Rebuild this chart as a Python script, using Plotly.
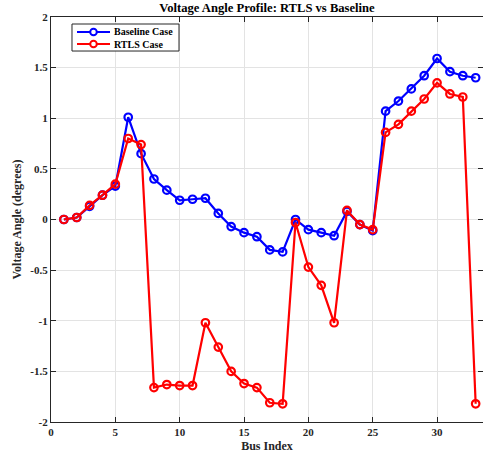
import plotly.graph_objects as go

bus = list(range(1, 34))
baseline = [0.00, 0.02, 0.13, 0.24, 0.33, 1.01, 0.65, 0.40, 0.29, 0.19, 0.20, 0.21,
            0.06, -0.07, -0.13, -0.17, -0.30, -0.32, 0.00, -0.10, -0.13, -0.16,
            0.08, -0.05, -0.11, 1.07, 1.17, 1.29, 1.42, 1.59, 1.46, 1.42, 1.40]
rtls = [0.00, 0.02, 0.14, 0.24, 0.35, 0.80, 0.74, -1.66, -1.63, -1.64, -1.64, -1.02,
        -1.26, -1.50, -1.62, -1.66, -1.81, -1.82, -0.03, -0.47, -0.65, -1.02,
        0.09, -0.05, -0.10, 0.86, 0.94, 1.07, 1.19, 1.35, 1.24, 1.21, -1.82]

series_names = ["Baseline Case", "RTLS Case"]
series_colors = ["#0000ff", "#ff0000"]

x_ticks = [0, 5, 10, 15, 20, 25, 30]
y_ticks = [-2, -1.5, -1, -0.5, 0, 0.5, 1, 1.5, 2]
y_labels = ["-2", "-1.5", "-1", "-0.5", "0", "0.5", "1", "1.5", "2"]

font_family = "Liberation Serif"

fig = go.Figure()
for name, vals, color in zip(series_names, [baseline, rtls], series_colors):
    fig.add_trace(go.Scatter(
        x=bus, y=vals, name=name, mode="lines+markers",
        line=dict(color=color, width=2.2),
        marker=dict(symbol="circle-open", size=7.5, color=color,
                    line=dict(color=color, width=2.2)),
        showlegend=False,
    ))

# compact boxed legend in the upper-left corner of the axes
shapes = [dict(type="rect", xref="paper", yref="paper",
               x0=0.0486, x1=0.2963, y0=0.916, y1=0.9827,
               line=dict(color="#262626", width=1), fillcolor="white", layer="above")]
annotations = []
for row_y, name, color in zip([0.963, 0.9333], series_names, series_colors):
    shapes.append(dict(type="line", xref="paper", yref="paper",
                       x0=0.0602, x1=0.1366, y0=row_y, y1=row_y,
                       line=dict(color=color, width=2.2), layer="above"))
    shapes.append(dict(type="circle", xref="paper", yref="paper",
                       xsizemode="pixel", ysizemode="pixel",
                       xanchor=0.0984, yanchor=row_y,
                       x0=-3.3, x1=3.3, y0=-3.3, y1=3.3,
                       line=dict(color=color, width=2), fillcolor="white",
                       layer="above"))
    annotations.append(dict(xref="paper", yref="paper", x=0.1412, y=row_y,
                            xanchor="left", yanchor="middle", showarrow=False,
                            text=f"<b>{name}</b>",
                            font=dict(family=font_family, size=10, color="#000000")))

axis_common = dict(
    showgrid=True, gridcolor="#e3e3e3", gridwidth=1,
    showline=True, linecolor="#262626", linewidth=1.2,
    mirror="ticks", ticks="inside", ticklen=5, tickcolor="#262626",
    zeroline=False,
    tickfont=dict(family=font_family, size=11, color="#262626"),
)

fig.update_layout(
    width=483, height=459,
    margin=dict(l=51, r=0, t=17, b=37),
    paper_bgcolor="white", plot_bgcolor="white",
    title=dict(text="<b>Voltage Angle Profile: RTLS vs Baseline</b>",
               xref="paper", x=0.5, xanchor="center", y=0.992, yanchor="top",
               font=dict(family=font_family, size=12.6, color="#000000")),
    xaxis=dict(range=[0, 33.57], tickvals=x_ticks,
               ticktext=[f"<b>{v}</b>" for v in x_ticks],
               title=dict(text="<b>Bus Index</b>", standoff=4,
                          font=dict(family=font_family, size=12, color="#262626")),
               **axis_common),
    yaxis=dict(range=[-2, 2], tickvals=y_ticks,
               ticktext=[f"<b>{t}</b>" for t in y_labels],
               title=dict(text="<b>Voltage Angle (degrees)</b>", standoff=6,
                          font=dict(family=font_family, size=12, color="#262626")),
               **axis_common),
    shapes=shapes,
    annotations=annotations,
    showlegend=False,
)

fig.write_html("out.html")
